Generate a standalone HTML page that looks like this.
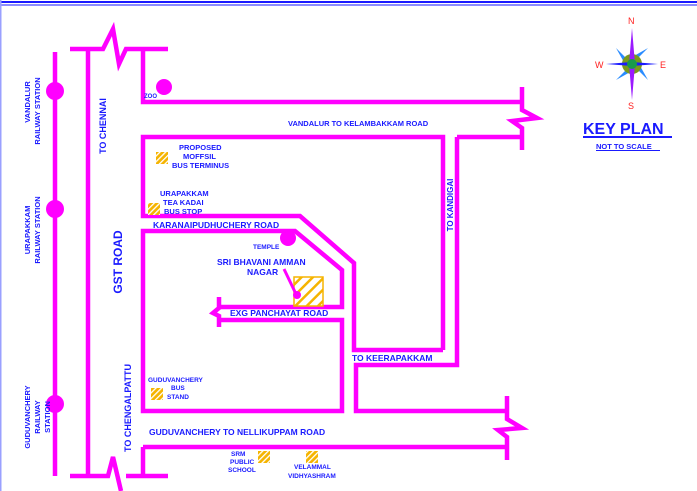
<!DOCTYPE html>
<html><head><meta charset="utf-8"><style>
html,body{margin:0;padding:0;background:#fff;}
svg{display:block;}
text{font-family:"Liberation Sans",Arial,sans-serif;font-weight:bold;fill:#1a1aff;}
</style></head><body>
<svg width="697" height="491" viewBox="0 0 697 491" xmlns="http://www.w3.org/2000/svg">
<defs>
<pattern id="h" width="4" height="4" patternUnits="userSpaceOnUse" patternTransform="rotate(45)">
<rect width="4" height="4" fill="#f5b400"/><rect width="1.3" height="4" fill="#fff"/></pattern>
<pattern id="hb" width="8" height="8" patternUnits="userSpaceOnUse" patternTransform="rotate(45)">
<rect width="8" height="8" fill="#fff"/><rect width="2.5" height="8" fill="#f5b400"/></pattern>
</defs>
<rect x="0" y="1" width="697" height="2" fill="#1a1aff"/>
<rect x="0" y="4.5" width="697" height="1" fill="#1a1aff"/>
<rect x="0" y="0" width="1.5" height="491" fill="#9aa0ff"/>
<g stroke="#ff00ff" stroke-width="4.5" fill="none" stroke-linejoin="miter">
<line x1="55" y1="52" x2="55" y2="476"/>
<polyline points="70,49 103,49 113,29 119,64 126,49 168,49"/>
<line x1="88" y1="49" x2="88" y2="477"/>
<polyline points="143,49 143,102 522,102"/>
<polyline points="522,87 522,110 537,118 512,121 522,128 522,150"/>
<polyline points="443,350 443,137 143,137 143,216 300,216 354,263 354,350 443,350"/>
<polyline points="457,137 522,137"/>
<polyline points="457,137 457,365 356,365 356,411 507,411"/>
<polyline points="507,396 507,419 522,428 498,430 507,437 507,460"/>
<polyline points="143,447 507,447"/>
<polyline points="220,307 342,307 342,270 295,231 143,231 143,411 342,411 342,320 220,320"/>
<polyline points="219,297 219,308 213,313 219,316 219,327"/>
<polyline points="143,447 143,476"/>
<polyline points="70,476 108,476 113,457 121,491"/>
<polyline points="126,476 168,476"/>
</g>
<g fill="#ff00ff">
<circle cx="55" cy="91" r="9"/><circle cx="55" cy="209" r="9"/><circle cx="55" cy="404" r="9"/>
<circle cx="164" cy="87" r="8"/><circle cx="288" cy="238" r="8"/>
</g>
<g fill="url(#h)">
<rect x="156" y="152" width="12" height="12"/>
<rect x="148" y="203" width="12" height="12"/>
<rect x="151" y="388" width="12" height="12"/>
<rect x="258" y="451" width="12" height="12"/>
<rect x="306" y="451" width="12" height="12"/>
</g>
<rect x="294" y="277" width="29" height="29" fill="url(#hb)" stroke="#f5b400" stroke-width="1.5"/>
<line x1="284" y1="269" x2="295" y2="292" stroke="#ff00ff" stroke-width="3"/>
<circle cx="297" cy="295" r="4" fill="#ff00ff"/>
<g transform="translate(632,64)">
<polygon points="-16,-16 -3,-3 -7,0" fill="#2a8cff"/><polygon points="16,-16 3,-3 0,-7" fill="#2a8cff"/>
<polygon points="-16,16 -3,3 0,7" fill="#2a8cff"/><polygon points="16,16 3,3 7,0" fill="#2a8cff"/>
<circle r="10" fill="#7a9a1a"/>
<polygon points="0,-36 3,0 0,36 -3,0" fill="#9a1aff"/>
<polygon points="-26,0 0,-2 26,0 0,2" fill="#1a1aff"/>
<circle r="5" fill="#1a9a4a"/>
</g>
<text x="628" y="24" font-size="9" style="fill:#ff2020;font-weight:normal">N</text>
<text x="595" y="68" font-size="9" style="fill:#ff2020;font-weight:normal">W</text>
<text x="660" y="68" font-size="9" style="fill:#ff2020;font-weight:normal">E</text>
<text x="628" y="109" font-size="9" style="fill:#ff2020;font-weight:normal">S</text>
<text x="583" y="134" font-size="16">KEY PLAN</text>
<rect x="583" y="136" width="89" height="2" fill="#1a1aff"/>
<text x="596" y="149" font-size="7.5">NOT TO SCALE</text>
<rect x="596" y="150" width="64" height="1" fill="#1a1aff"/>
<g font-size="7.5">
<text x="144" y="98" font-size="6">ZOO</text>
<text x="288" y="126">VANDALUR TO KELAMBAKKAM ROAD</text>
<text x="179" y="150">PROPOSED</text>
<text x="183" y="159">MOFFSIL</text>
<text x="172" y="168">BUS TERMINUS</text>
<text x="160" y="196">URAPAKKAM</text>
<text x="163" y="205">TEA KADAI</text>
<text x="164" y="214">BUS STOP</text>
<text x="153" y="228" font-size="8.5">KARANAIPUDHUCHERY ROAD</text>
<text x="253" y="249" font-size="6.5">TEMPLE</text>
<text x="217" y="265" font-size="8.5">SRI  BHAVANI AMMAN</text>
<text x="247" y="275" font-size="8.5">NAGAR</text>
<text x="230" y="316" font-size="8.5">EXG PANCHAYAT ROAD</text>
<text x="352" y="361" font-size="8.5">TO KEERAPAKKAM</text>
<text x="148" y="382" font-size="6.5">GUDUVANCHERY</text>
<text x="171" y="390" font-size="6.5">BUS</text>
<text x="167" y="399" font-size="6.5">STAND</text>
<text x="149" y="435" font-size="8.5">GUDUVANCHERY TO NELLIKUPPAM ROAD</text>
<text x="231" y="456" font-size="6.5">SRM</text>
<text x="230" y="464" font-size="6.5">PUBLIC</text>
<text x="228" y="472" font-size="6.5">SCHOOL</text>
<text x="294" y="469" font-size="6.5">VELAMMAL</text>
<text x="288" y="478" font-size="6.5">VIDHYASHRAM</text>
</g>
<g font-size="7.5" text-anchor="middle">
<text transform="translate(30,102) rotate(-90)">VANDALUR</text>
<text transform="translate(40,111) rotate(-90)">RAILWAY STATION</text>
<text transform="translate(30,230) rotate(-90)">URAPAKKAM</text>
<text transform="translate(40,230) rotate(-90)">RAILWAY STATION</text>
<text transform="translate(30,417) rotate(-90)">GUDUVANCHERY</text>
<text transform="translate(40,417) rotate(-90)">RAILWAY</text>
<text transform="translate(50,417) rotate(-90)">STATION</text>
<text transform="translate(106,126) rotate(-90)" font-size="9">TO CHENNAI</text>
<text transform="translate(122,262) rotate(-90)" font-size="12">GST ROAD</text>
<text transform="translate(131,408) rotate(-90)" font-size="9">TO CHENGALPATTU</text>
<text transform="translate(453,205) rotate(-90)" font-size="8">TO KANDIGAI</text>
</g>
</svg>
</body></html>
